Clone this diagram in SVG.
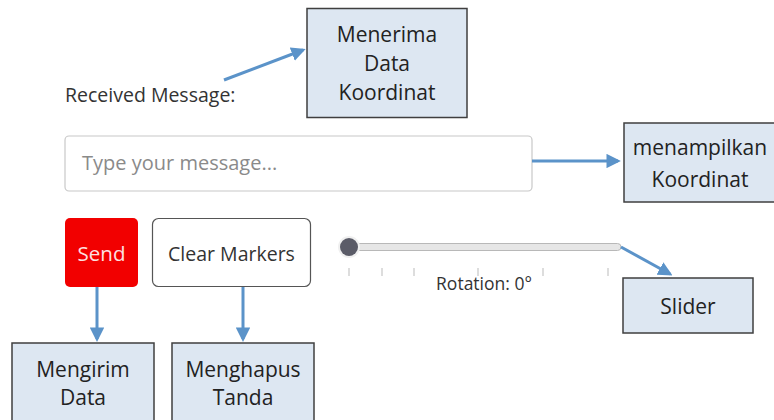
<svg xmlns="http://www.w3.org/2000/svg" width="774" height="420" viewBox="0 0 774 420">
<style>
.box{fill:#dde7f2;stroke:#3f3f3f;stroke-width:1.5}
.lbl{font-family:"Open Sans","Noto Sans",sans-serif;font-size:21px;fill:#222;text-anchor:middle}
.ui{font-family:"Open Sans","Noto Sans",sans-serif;fill:#333}
.arr{stroke:#5b93c9;stroke-width:3;fill:none;marker-end:url(#ah)}
.tick{stroke:#bbb;stroke-width:1}
</style>
<defs>
<marker id="ah" viewBox="0 0 10 10" refX="8" refY="5" markerWidth="4.8" markerHeight="4.8" orient="auto" markerUnits="strokeWidth">
<path d="M0,0 L10,5 L0,10 z" fill="#5b93c9"/>
</marker>
</defs>
<rect width="774" height="420" fill="#fff"/>

<g id="received-label">
<text class="ui" x="65" y="102" font-size="19.5">Received Message:</text>
</g>
<g id="input">
<rect x="65" y="136" width="467" height="55" rx="4" fill="#fff" stroke="#c8c8c8" stroke-width="1.2"/>
<text class="ui" x="82" y="170" font-size="20" style="fill:#8a8a8a">Type your message...</text>
</g>
<g id="send">
<rect x="65" y="218" width="73" height="69" rx="5" fill="#f20000"/>
<text class="ui" x="101.5" y="261" font-size="20.5" text-anchor="middle" style="fill:#fde0e0">Send</text>
</g>
<g id="clear">
<rect x="152.5" y="218.5" width="158" height="68" rx="6" fill="#fff" stroke="#555" stroke-width="1.2"/>
<text class="ui" x="231.5" y="261" font-size="19.5" text-anchor="middle">Clear Markers</text>
</g>
<g id="slider-widget">
<rect x="349" y="243.5" width="272" height="7" rx="3.5" fill="#e6e6e6" stroke="#b8b8b8" stroke-width="1"/>
<circle cx="349" cy="247" r="11" fill="#f0f0f0"/>
<circle cx="349" cy="247" r="9" fill="#5b5c68"/>
<line class="tick" x1="349" y1="268" x2="349" y2="276"/>
<line class="tick" x1="382" y1="268" x2="382" y2="276"/>
<line class="tick" x1="414" y1="268" x2="414" y2="276"/>
<line class="tick" x1="478" y1="268" x2="478" y2="276"/>
<line class="tick" x1="543" y1="268" x2="543" y2="276"/>
<line class="tick" x1="608" y1="268" x2="608" y2="276"/>
<text class="ui" x="484" y="290" font-size="17.5" text-anchor="middle">Rotation: 0°</text>
</g>

<g id="menerima">
<rect class="box" x="307" y="8.5" width="160" height="109"/>
<text class="lbl" x="387" y="42">Menerima</text>
<text class="lbl" x="387" y="71">Data</text>
<text class="lbl" x="387" y="100">Koordinat</text>
</g>
<g id="menampilkan">
<rect class="box" x="624" y="123" width="160" height="79"/>
<text class="lbl" x="700" y="155">menampilkan</text>
<text class="lbl" x="700" y="187">Koordinat</text>
</g>
<g id="slider-box">
<rect class="box" x="623" y="278" width="130" height="55"/>
<text class="lbl" x="688" y="314">Slider</text>
</g>
<g id="mengirim">
<rect class="box" x="12" y="343" width="142" height="90"/>
<text class="lbl" x="83" y="377">Mengirim</text>
<text class="lbl" x="83" y="405">Data</text>
</g>
<g id="menghapus">
<rect class="box" x="172" y="343" width="142" height="90"/>
<text class="lbl" x="243" y="377">Menghapus</text>
<text class="lbl" x="243" y="405">Tanda</text>
</g>

<g id="connectors">
<line class="arr" x1="224" y1="80" x2="303" y2="50"/>
<line class="arr" x1="532" y1="161" x2="618" y2="161"/>
<line class="arr" x1="97" y1="287" x2="97" y2="339"/>
<line class="arr" x1="243" y1="287" x2="243" y2="339"/>
<line class="arr" x1="621" y1="247" x2="670" y2="274"/>
</g>
</svg>
